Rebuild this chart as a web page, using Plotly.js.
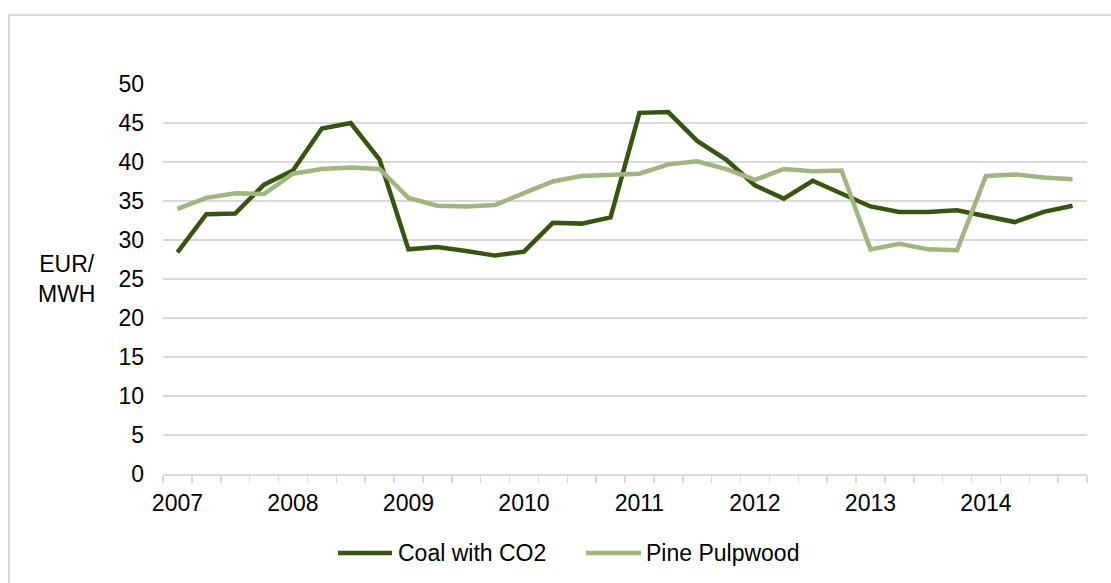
<!DOCTYPE html>
<html>
<head>
<meta charset="utf-8">
<script src="https://cdn.plot.ly/plotly-3.0.1.min.js"></script>
<style>
  html, body { margin: 0; padding: 0; background: #ffffff; overflow: hidden; }
  #frame { position: absolute; left: 8px; top: 14px; width: 1200px; height: 700px;
           border: 2px solid #d9d9d9; box-sizing: border-box; }
  #chart { position: absolute; left: 0; top: 0; width: 1111px; height: 583px; }
</style>
</head>
<body>
<div id="frame"></div>
<div id="chart"></div>
<script>
// Quarterly fuel prices, EUR/MWH, 2007 Q1 – 2014 Q4
const years = [2007, 2008, 2009, 2010, 2011, 2012, 2013, 2014];
const quarters = ['Q1', 'Q2', 'Q3', 'Q4'];

const coalWithCO2 = [
  28.4, 33.3, 33.4, 37.1, 38.9, 44.3, 45.0, 40.3,
  28.8, 29.1, 28.6, 28.0, 28.5, 32.2, 32.1, 32.9,
  46.3, 46.4, 42.7, 40.3, 37.0, 35.3, 37.6, 35.9,
  34.3, 33.6, 33.6, 33.8, 33.1, 32.3, 33.6, 34.4
];
const pinePulpwood = [
  34.0, 35.4, 36.0, 35.9, 38.5, 39.1, 39.3, 39.1,
  35.4, 34.4, 34.3, 34.5, 36.0, 37.5, 38.2, 38.3,
  38.5, 39.7, 40.1, 39.1, 37.7, 39.1, 38.8, 38.9,
  28.8, 29.5, 28.8, 28.7, 38.2, 38.4, 38.0, 37.8
];
const seriesNames = ['Coal with CO2', 'Pine Pulpwood'];
const seriesColors = ['#385510', '#a0b67e'];

// one slot per quarter on the x axis
const periods = [];
years.forEach(y => quarters.forEach(q => periods.push(y + ' ' + q)));
const xIdx = periods.map((_, i) => i);
const yearTickVals = years.map((_, i) => i * quarters.length);

const W = 1111, H = 583;
const margin = { l: 163, r: 24, t: 84, b: 109 };
const plotW = W - margin.l - margin.r;
const plotH = H - margin.t - margin.b;
const px = x => (x - margin.l) / plotW;          // page x -> paper x
const py = y => (H - margin.b - y) / plotH;      // page y -> paper y

const font = { family: 'Liberation Sans, Arial, sans-serif', size: 23, color: '#000000' };

const traces = [coalWithCO2, pinePulpwood].map((vals, k) => ({
  type: 'scatter',
  mode: 'lines',
  name: seriesNames[k],
  x: xIdx,
  y: vals,
  text: periods,
  line: { color: seriesColors[k], width: 4.5 },
  showlegend: false,
  hovertemplate: '%{text}: %{y}<extra>' + seriesNames[k] + '</extra>'
}));

// legend drawn as line swatches plus labels below the plot
const legendY = py(553);
const legendItems = [
  { x0: 338, x1: 392, tx: 396 },
  { x0: 586, x1: 641, tx: 644 }
];
const shapes = legendItems.map((it, k) => ({
  type: 'line', xref: 'paper', yref: 'paper',
  x0: px(it.x0), x1: px(it.x1), y0: legendY, y1: legendY,
  line: { color: seriesColors[k], width: 4.5 }
}));
const annotations = legendItems.map((it, k) => ({
  xref: 'paper', yref: 'paper', x: px(it.tx), y: legendY,
  xanchor: 'left', yanchor: 'middle', showarrow: false,
  text: seriesNames[k], font: font
}));
annotations.push({
  xref: 'paper', yref: 'y', x: px(66), y: 25,
  xanchor: 'center', yanchor: 'middle', showarrow: false, align: 'center',
  text: 'EUR/<br>MWH', font: font
});

const layout = {
  width: W, height: H,
  margin: margin,
  paper_bgcolor: 'rgba(0,0,0,0)',
  plot_bgcolor: 'rgba(0,0,0,0)',
  font: font,
  showlegend: false,
  xaxis: {
    range: [-0.5, periods.length - 0.5],
    tickmode: 'array',
    tickvals: yearTickVals,
    ticktext: years.map(String),
    ticks: '',
    showgrid: false,
    zeroline: false,
    showline: true,
    linecolor: '#d9d9d9',
    linewidth: 1.5,
    ticklabelstandoff: 8,
    minor: {
      tickmode: 'linear', tick0: -0.5, dtick: 1,
      ticks: 'outside', ticklen: 7, tickwidth: 1.5, tickcolor: '#d9d9d9',
      showgrid: false
    },
    fixedrange: true
  },
  yaxis: {
    range: [0, 50],
    tickmode: 'linear', tick0: 0, dtick: 5,
    ticks: '',
    showgrid: true,
    gridcolor: '#d9d9d9',
    gridwidth: 1.5,
    zeroline: false,
    showline: false,
    ticklabelstandoff: 18,
    fixedrange: true
  },
  shapes: shapes,
  annotations: annotations
};

Plotly.newPlot('chart', traces, layout, { displayModeBar: false, staticPlot: true });
</script>
</body>
</html>
